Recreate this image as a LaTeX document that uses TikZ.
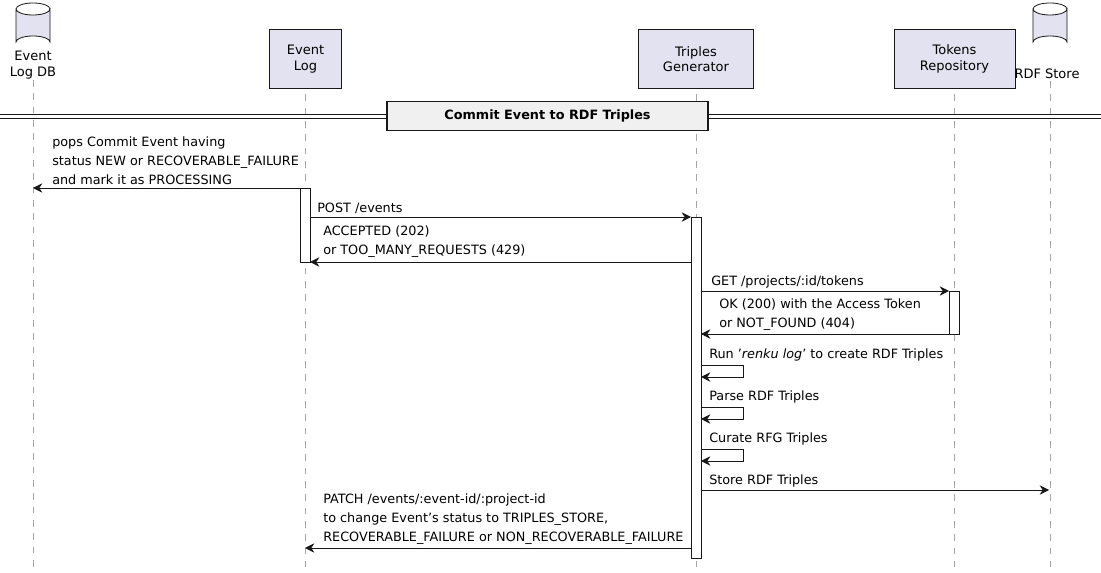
\documentclass[tikz,border=0pt]{standalone}
\usepackage{fontspec}
\setmainfont{DejaVu Sans}
\usetikzlibrary{arrows.meta}
\definecolor{pfill}{HTML}{E2E2F0}
\definecolor{pline}{HTML}{181818}
\tikzset{
  part/.style={draw=pline,fill=pfill,align=center,inner sep=0pt,minimum height=44,text width=#1},
  life/.style={draw=gray!70,dashed,dash pattern=on 5 off 5,line width=0.5pt},
  act/.style={draw=pline,fill=white,line width=0.5pt},
  msg/.style={draw=pline,line width=0.6pt,-{Stealth[length=7pt,width=7pt]}},
  lbl/.style={anchor=south west,align=left,inner sep=0pt,font=\fontsize{9.6}{14.2}\selectfont},
}
\newcommand{\dbcyl}[3]{% center x, top y, bottom y
  \filldraw[draw=pline,fill=pfill,line width=0.6pt] (#1-17,#2+6) -- (#1-17,#3-6) arc[start angle=180,end angle=360,x radius=17,y radius=6] -- (#1+17,#2+6) arc[start angle=0,end angle=180,x radius=17,y radius=6];
  \draw[draw=pline,line width=0.6pt] (#1-17,#2+6) arc[start angle=180,end angle=360,x radius=17,y radius=6];
}
\begin{document}
\begin{tikzpicture}[x=0.75pt,y=-0.75pt,font=\fontsize{9.75}{11.5}\selectfont]
\useasboundingbox (0,0) rectangle (1101,573);
\fill[white] (0,0) rectangle (1101,573);
% lifelines
\draw[life] (33,80) -- (33,567);
\draw[life] (305,81) -- (305,567);
\draw[life] (696,81) -- (696,567);
\draw[life] (954,81) -- (954,567);
\draw[life] (1050,81) -- (1050,567);
% participants
\dbcyl{33}{3}{48}
\node[align=center,inner sep=0pt] (eldb) at (33,65) {Event\\Log DB};
\node[part=54] (el) at (305.5,59) {Event\\Log};
\node[part=86] (tg) at (696,59) {Triples\\Generator};
\node[part=91] (tr) at (954.5,59) {Tokens\\Repository};
\dbcyl{1050}{3}{48}
\node[inner sep=0pt] (rdf) at (1047,74) {RDF Store};
% divider
\draw[pline,line width=0.6pt] (0,114) -- (1101,114) (0,118) -- (1101,118);
\node[draw=pline,fill=gray!12,line width=1.2pt,minimum width=241,minimum height=22,inner sep=0pt,font=\bfseries\fontsize{9.6}{11}\selectfont] (div) at (547.5,116) {Commit Event to RDF Triples};
% activations
\draw[act] (300,188) rectangle (310,262);
\draw[act] (691,217) rectangle (701,558);
\draw[act] (949,291) rectangle (959,334);
% coordinates
\coordinate (a1s) at (300,188); \coordinate (a1e) at (33,188);
\coordinate (a2s) at (310,217); \coordinate (a2e) at (691,217);
\coordinate (a3s) at (691,262); \coordinate (a3e) at (310,262);
\coordinate (a4s) at (701,291); \coordinate (a4e) at (949,291);
\coordinate (a5s) at (949,334); \coordinate (a5e) at (701,334);
\coordinate (a9s) at (701,490); \coordinate (a9e) at (1049,490);
\coordinate (a10s) at (691,548); \coordinate (a10e) at (305,548);
% messages
\draw[msg] (a1s) -- (a1e);
\node[lbl] (t1) at (52,185) {pops Commit Event having\\status NEW or RECOVERABLE\_FAILURE\\and mark it as PROCESSING};
\draw[msg] (a2s) -- (a2e);
\node[lbl] (t2) at (317,214) {POST /events};
\draw[msg] (a3s) -- (a3e);
\node[lbl] (t3) at (323,258) {ACCEPTED (202)\\or TOO\_MANY\_REQUESTS (429)};
\draw[msg] (a4s) -- (a4e);
\node[lbl] (t4) at (711,288) {GET /projects/:id/tokens};
\draw[msg] (a5s) -- (a5e);
\node[lbl] (t5) at (719,331) {OK (200) with the Access Token\\or NOT\_FOUND (404)};
\foreach \y/\n in {365/a, 407/b, 449/c}{
  \coordinate (s\n) at (701,\y); \coordinate (e\n) at (701,\y+12);
  \draw[msg] (s\n) -- ++(42,0) -- ++(0,12) -- (e\n);
}
\node[lbl] (t6) at (709,361) {Run '\textit{renku log}' to create RDF Triples};
\node[lbl] (t7) at (709,403) {Parse RDF Triples};
\node[lbl] (t8) at (709,445) {Curate RFG Triples};
\draw[msg] (a9s) -- (a9e);
\node[lbl] (t9) at (709,487) {Store RDF Triples};
\draw[msg] (a10s) -- (a10e);
\node[lbl] (t10) at (323,545) {PATCH /events/:event-id/:project-id\\to change Event's status to TRIPLES\_STORE,\\RECOVERABLE\_FAILURE or NON\_RECOVERABLE\_FAILURE};
\end{tikzpicture}
\end{document}
